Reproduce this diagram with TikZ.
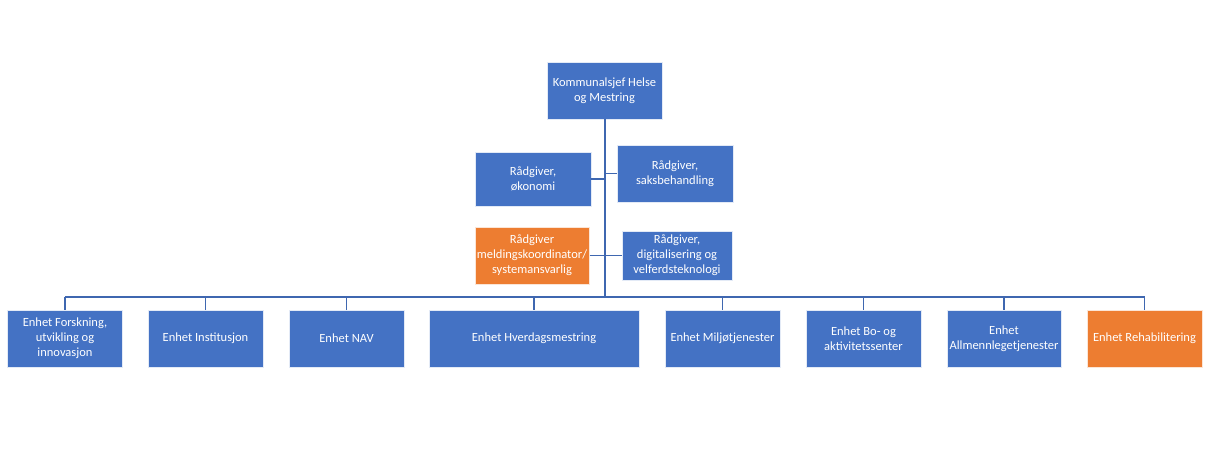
\documentclass[tikz,border=0pt]{standalone}
\usepackage{fontspec}
\setmainfont{Carlito}
\definecolor{boxblue}{HTML}{4472C4}
\definecolor{boxorange}{HTML}{ED7D31}
\definecolor{lineblue}{HTML}{3F67B0}
\begin{document}
\begin{tikzpicture}[x=1pt,y=-1pt,
  unit/.style={draw=white!85!boxblue, line width=0.8pt, text=white, align=center,
    inner sep=2pt, font=\fontsize{12.5}{15}\selectfont, anchor=center},
  bluebox/.style={unit, fill=boxblue},
  orangebox/.style={unit, fill=boxorange, draw=white!80!boxorange},
  conn/.style={draw=lineblue, line width=1.1pt},
  trunk/.style={draw=lineblue, line width=2pt}]
\useasboundingbox (0,0) rectangle (1207,457);
% top
\node[bluebox, minimum width=115pt, minimum height=57pt] (top) at (604.5,90.5) {Kommunalsjef Helse\\og Mestring};
% advisors
\node[bluebox, minimum width=116pt, minimum height=54pt] (oko) at (533,179) {Rådgiver,\\økonomi};
\node[bluebox, minimum width=116pt, minimum height=57pt] (saks) at (675,173.5) {Rådgiver,\\saksbehandling};
\node[orangebox, minimum width=114pt, minimum height=57pt] (meld) at (532,255.5) {Rådgiver\\meldingskoordinator/\\systemansvarlig};
\node[bluebox, minimum width=110pt, minimum height=49pt] (digi) at (677,255.5) {Rådgiver,\\digitalisering og\\velferdsteknologi};
% units
\node[bluebox, minimum width=115pt, minimum height=57pt] (u1) at (65,338.5) {Enhet Forskning,\\utvikling og\\innovasjon};
\node[bluebox, minimum width=115pt, minimum height=57pt] (u2) at (205.5,338.5) {Enhet Institusjon};
\node[bluebox, minimum width=115pt, minimum height=57pt] (u3) at (346.5,338.5) {Enhet NAV};
\node[bluebox, minimum width=210pt, minimum height=57pt] (u4) at (534,338.5) {Enhet Hverdagsmestring};
\node[bluebox, minimum width=115pt, minimum height=57pt] (u5) at (722.5,338.5) {Enhet Miljøtjenester};
\node[bluebox, minimum width=115pt, minimum height=57pt] (u6) at (863.5,338.5) {Enhet Bo- og\\aktivitetssenter};
\node[bluebox, minimum width=114pt, minimum height=57pt] (u7) at (1004,338.5) {Enhet\\Allmennlegetjenester};
\node[orangebox, minimum width=115pt, minimum height=57pt] (u8) at (1144.5,338.5) {Enhet Rehabilitering};
% connectors
\coordinate (bus) at (604.5,297);
\draw[trunk] (top.south) -- (bus);
\draw[conn] (u1.north |- bus) -- (u8.north |- bus);
\foreach \u in {u1,u2,u3,u4,u5,u6,u7,u8}
  \draw[conn] (\u.north) -- (\u.north |- bus);
\draw[conn] (oko.east) -- (oko.east -| top.south);
\draw[conn] (saks.west) -- (saks.west -| top.south);
\draw[conn] (meld.east) -- (meld.east -| top.south);
\draw[conn] (digi.west) -- (digi.west -| top.south);
\end{tikzpicture}
\end{document}
